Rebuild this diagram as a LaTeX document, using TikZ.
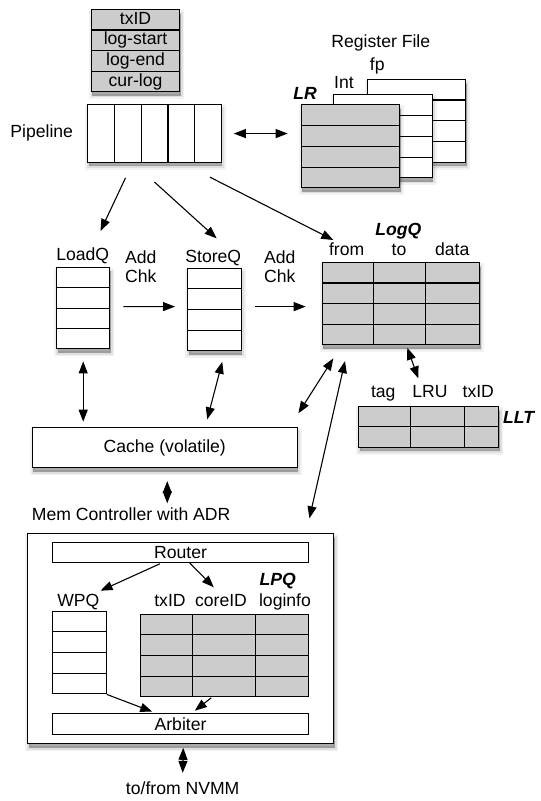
\documentclass[tikz,border=0pt]{standalone}
\usepackage{fontspec}
\setmainfont{Liberation Sans}
\usetikzlibrary{arrows.meta,calc,shadows}

\tikzset{
  plainbox/.style={draw, line width=1.1pt, fill=white, inner sep=0pt, anchor=north west},
  box/.style={plainbox,
    general shadow={shadow xshift=1pt, shadow yshift=-4pt, fill=black, draw=black, line width=7pt, opacity=0.05},
    general shadow={shadow xshift=1pt, shadow yshift=-4pt, fill=black, draw=black, line width=3.5pt, opacity=0.08},
    general shadow={shadow xshift=1pt, shadow yshift=-4pt, fill=black, opacity=0.2}},
  greybox/.style={box, fill=gray!40},
  lbl/.style={inner sep=0pt, text height=12.6pt, text depth=3.7pt},
  tit/.style={lbl, font=\fontsize{17.6}{19}\selectfont\bfseries\itshape},
  sep/.style={line width=1.1pt},
  arr/.style={line width=1.1pt, -{Triangle[length=12pt,width=9pt]}},
  darr/.style={line width=1.1pt, {Triangle[length=12pt,width=9pt]}-{Triangle[length=12pt,width=9pt]}}
}

\begin{document}
\begin{tikzpicture}[x=1pt, y=-1pt, font=\fontsize{17.6}{19}\selectfont]
\useasboundingbox (0,0) rectangle (541,801);

\node[greybox, minimum width=88.6pt, minimum height=81.7pt] (stk) at (90.7,9.3) {};
\foreach \i in {1,2,3} \draw[sep] ($(stk.north west)!\i/4!(stk.south west)$) -- ($(stk.north east)!\i/4!(stk.south east)$);
\foreach \t [count=\i] in {txID,log-start,log-end,cur-log}
  \node[lbl] (stk\i) at ($(stk.north)!{(\i-0.5)/4}!(stk.south)$) {\t};

\node[box, minimum width=133.4pt, minimum height=57.4pt] (pipe) at (87.3,104.3) {};
\foreach \i in {1,...,4} \draw[sep] ($(pipe.north west)!\i/5!(pipe.north east)$) -- ($(pipe.south west)!\i/5!(pipe.south east)$);
\node[lbl] (pipelbl) at (41.7,133.5) {Pipeline};

\node[lbl] (rflbl) at (380.8,43) {Register File};
\node[box, minimum width=98.3pt, minimum height=82.7pt] (fp) at (366.7,79) {};
\foreach \i in {1,2,3} \draw[sep] ($(fp.north west)!\i/4!(fp.south west)$) -- ($(fp.north east)!\i/4!(fp.south east)$);
\node[box, minimum width=98.3pt, minimum height=82.7pt] (int) at (333.3,94.3) {};
\foreach \i in {1,2,3} \draw[sep] ($(int.north west)!\i/4!(int.south west)$) -- ($(int.north east)!\i/4!(int.south east)$);
\node[greybox, minimum width=98.3pt, minimum height=82.7pt] (lr) at (300.7,104.3) {};
\foreach \i in {1,2,3} \draw[sep] ($(lr.north west)!\i/4!(lr.south west)$) -- ($(lr.north east)!\i/4!(lr.south east)$);
\node[lbl] (fplbl) at (377.3,66) {fp};
\node[lbl] (intlbl) at (344,84.5) {Int};
\node[tit] (lrlbl) at (305,95.5) {LR};

\node[box, minimum width=53.3pt, minimum height=81.6pt] (lq) at (56,266.7) {};
\foreach \i in {1,2,3} \draw[sep] ($(lq.north west)!\i/4!(lq.south west)$) -- ($(lq.north east)!\i/4!(lq.south east)$);
\node[lbl] (lqlbl) at (82.7,256.5) {LoadQ};

\node[box, minimum width=53.4pt, minimum height=82.3pt] (sq) at (187.3,267.7) {};
\foreach \i in {1,2,3} \draw[sep] ($(sq.north west)!\i/4!(sq.south west)$) -- ($(sq.north east)!\i/4!(sq.south east)$);
\node[lbl] (sqlbl) at (213.3,258) {StoreQ};

\node[lbl, anchor=west, align=left] (chk1) at (125,278) {Add\\Chk};
\node[lbl, anchor=west, align=left] (chk2) at (264,278) {Add\\Chk};

\node[greybox, minimum width=157.3pt, minimum height=81.7pt] (logq) at (321.7,262.3) {};
\foreach \i in {1,2,3} \draw[sep] ($(logq.north west)!\i/4!(logq.south west)$) -- ($(logq.north east)!\i/4!(logq.south east)$);
\foreach \f in {0.328,0.657} \draw[sep] ($(logq.north west)!\f!(logq.north east)$) -- ($(logq.south west)!\f!(logq.south east)$);
\node[tit] (logqlbl) at (398.3,231) {LogQ};
\node[lbl] (from) at (346.7,251.5) {from};
\node[lbl] (to) at (399,251.5) {to};
\node[lbl] (data) at (452.3,251.5) {data};

\node[greybox, minimum width=140pt, minimum height=40.7pt] (llt) at (358.3,406) {};
\draw[sep] (llt.west) -- (llt.east);
\foreach \f in {0.369,0.75} \draw[sep] ($(llt.north west)!\f!(llt.north east)$) -- ($(llt.south west)!\f!(llt.south east)$);
\node[lbl] (tag) at (383.3,393.5) {tag};
\node[lbl] (lru) at (430,393.5) {LRU};
\node[lbl] (lltx) at (478.3,393.5) {txID};
\node[tit, anchor=west] (lltlbl) at (503,419.5) {LLT};

\node[box, minimum width=265pt, minimum height=40.6pt] (cache) at (31.7,426.7) {Cache (volatile)};

\node[lbl, anchor=west] (memlbl) at (31.7,516.5) {Mem Controller with ADR};
\node[box, minimum width=306pt, minimum height=210pt] (mem) at (27.3,533.3) {};
\node[plainbox, minimum width=256.6pt, minimum height=20pt] (router) at (51.7,541.7) {Router};
\node[tit] (lpqlbl) at (277.7,581) {LPQ};
\node[lbl] (wpqlbl) at (78.3,602) {WPQ};
\node[lbl] (lpqtx) at (170,602) {txID};
\node[lbl] (lpqcore) at (221,602) {coreID};
\node[lbl] (lpqinfo) at (285,602) {loginfo};

\node[plainbox, minimum width=54pt, minimum height=82.3pt] (wpq) at (51.7,611) {};
\foreach \i in {1,2,3} \draw[sep] ($(wpq.north west)!\i/4!(wpq.south west)$) -- ($(wpq.north east)!\i/4!(wpq.south east)$);
\node[plainbox, fill=gray!40, minimum width=168.3pt, minimum height=82pt] (lpq) at (140,614) {};
\foreach \i in {1,2,3} \draw[sep] ($(lpq.north west)!\i/4!(lpq.south west)$) -- ($(lpq.north east)!\i/4!(lpq.south east)$);
\foreach \f in {0.311,0.683} \draw[sep] ($(lpq.north west)!\f!(lpq.north east)$) -- ($(lpq.south west)!\f!(lpq.south east)$);
\node[plainbox, minimum width=256.6pt, minimum height=20.7pt] (arb) at (51.7,713.3) {Arbiter};
\node[lbl] (nvmm) at (182.7,790) {to/from NVMM};

\draw[darr] ([xshift=12pt]pipe.east) -- ([xshift=-13pt]pipe.east -| lr.west);
\draw[arr] ([shift={(-29,15)}]pipe.south) -- ([shift={(17.3,-35.7)}]lq.north);
\draw[arr] ([shift={(0,19.3)}]pipe.south) -- ([shift={(2,-29.4)}]sq.north);
\draw[arr] ([shift={(55.3,14.3)}]pipe.south) -- ([shift={(11.6,-22.3)}]logq.north west);
\draw[arr] ([shift={(13,-1.5)}]lq.east) -- ([shift={(-12.3,-2.8)}]sq.west);
\draw[arr] ([shift={(13,-2.8)}]sq.east) -- ([xshift=-16pt,yshift=2.8pt]sq.east -| logq.west);
\draw[darr] ([yshift=-12pt]lq.south) -- ([yshift=5pt]lq.south |- cache.north);
\draw[darr] ([shift={(7.7,10.7)}]sq.south) -- ([shift={(42.5,-7.4)}]cache.north);
\draw[darr] ([shift={(11.6,13.3)}]logq.south west) -- ([shift={(0.6,-13.4)}]cache.north east);
\draw[darr] ([shift={(23.3,16)}]logq.south west) -- ([shift={(-25,-15)}]mem.north east);
\draw[darr] ([shift={(6.4,2.7)}]logq.south) -- ([shift={(-10.6,-27.7)}]llt.north);
\draw[darr] ([shift={(2.5,12.7)}]cache.south) -- ([shift={(-13.6,-30)}]mem.north);
\draw[arr] ([shift={(-20.7,1)}]router.south) -- ([shift={(21.3,-20.3)}]wpq.north);
\draw[arr] ([shift={(9.3,0.3)}]router.south) -- ([shift={(-10.9,-26.7)}]lpq.north);
\draw[arr] (wpq.south east) -- ([shift={(-28.3,-1.6)}]arb.north);
\draw[arr] ([shift={(-13.5,0.7)}]lpq.south) -- ([shift={(14.3,-2.6)}]arb.north);
\draw[darr] ([shift={(2.4,3.4)}]mem.south) -- ([yshift=8.8pt]nvmm.north);
\end{tikzpicture}
\end{document}
